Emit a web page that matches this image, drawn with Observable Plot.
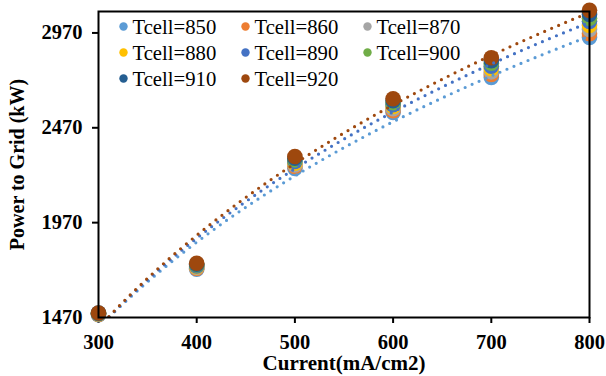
<!DOCTYPE html>
<html>
<head>
<meta charset="utf-8">
<script src="https://cdn.jsdelivr.net/npm/d3@7"></script>
<script src="https://cdn.jsdelivr.net/npm/@observablehq/plot@0.6"></script>
<style>
  html, body { margin: 0; padding: 0; background: #fff; }
</style>
</head>
<body>
<div id="chart"></div>
<script>
// ---- data ----
const currents = [300, 400, 500, 600, 700, 800];          // mA/cm2
const tcells = [850, 860, 870, 880, 890, 900, 910, 920];
const seriesColors = ["#5B9BD5", "#ED7D31", "#A5A5A5", "#FFC000", "#4472C4", "#70AD47", "#255E91", "#9E480E"];
const p850 = [1485, 1724, 2256, 2551, 2735, 2946];
const p860 = [1486, 1729, 2266, 2560, 2751, 2966];
const p870 = [1488, 1733, 2274, 2571, 2765, 2988];
const p880 = [1489, 1738, 2283, 2582, 2781, 3009];
const p890 = [1490, 1742, 2292, 2592, 2795, 3031];
const p900 = [1491, 1747, 2301, 2602, 2810, 3047];
const p910 = [1493, 1751, 2310, 2613, 2824, 3067];
const p920 = [1494, 1756, 2319, 2623, 2839, 3089];
const xTicks = [300, 400, 500, 600, 700, 800];
const yTicks = [1470, 1970, 2470, 2970];
const trendSeries = [850, 890, 920];   // series with a visible logarithmic trendline
const xLabel = "Current(mA/cm2)";
const yLabel = "Power to Grid (kW)";

const powers = [p850, p860, p870, p880, p890, p900, p910, p920];
const rows = [];
tcells.forEach((t, i) => currents.forEach((c, j) => rows.push({current: c, tcell: t, power: powers[i][j]})));

// logarithmic least-squares trendline (as in the spreadsheet)
function logFit(vals) {
  const L = currents.map(Math.log);
  const mL = d3.mean(L), mY = d3.mean(vals);
  const a = d3.sum(L, (l, i) => (l - mL) * (vals[i] - mY)) / d3.sum(L, l => (l - mL) ** 2);
  const b = mY - a * mL;
  return x => a * Math.log(x) + b;
}
const trendMarks = trendSeries.map(t => {
  const i = tcells.indexOf(t);
  const f = logFit(powers[i]);
  const pts = d3.range(300, 800.01, 2).map(x => ({x, y: f(x)}));
  return Plot.line(pts, {x: "x", y: "y", stroke: seriesColors[i], strokeWidth: 3.2,
    strokeDasharray: "0,7.6", strokeLinecap: "round", clip: true});
});

const legendMarks = [];
tcells.forEach((t, i) => {
  const col = i % 3, row = Math.floor(i / 3);
  legendMarks.push(Plot.dot([t], {frameAnchor: "top-left", dx: 25 + col * 122, dy: 15 + row * 26,
    r: 4.2, fill: seriesColors[i]}));
  legendMarks.push(Plot.text([t], {frameAnchor: "top-left", dx: 34 + col * 122, dy: 16 + row * 26,
    text: d => "Tcell=" + d, textAnchor: "start", lineAnchor: "middle", fontSize: 20.7, fill: "#000"}));
});

const chart = Plot.plot({
  width: 606,
  height: 376,
  marginLeft: 98,
  marginRight: 17,
  marginTop: 11,
  marginBottom: 59,
  style: {fontFamily: "'Liberation Serif', 'Times New Roman', serif", background: "#fff", color: "#000"},
  x: {domain: [300, 800]},
  y: {domain: [1470, 3083]},
  color: {type: "ordinal", domain: tcells, range: seriesColors},
  marks: [
    Plot.axisX({ticks: xTicks, tickFormat: d => String(d), tickSize: 6, tickPadding: 11, strokeWidth: 2,
      fontSize: 20.5, fontWeight: "bold", label: null}),
    Plot.axisY({ticks: yTicks, tickFormat: d => String(d), tickSize: 6, tickPadding: 10, strokeWidth: 2,
      fontSize: 20.5, fontWeight: "bold", label: null}),
    Plot.dot(rows, {x: "current", y: "power", fill: "tcell", r: 7.8}),
    ...trendMarks,
    Plot.frame({stroke: "#000", strokeWidth: 2}),
    ...legendMarks,
    Plot.text([yLabel], {frameAnchor: "left", dx: -81, rotate: -90, text: d => d, fontSize: 20,
      fontWeight: "bold", textAnchor: "middle", lineAnchor: "middle", fill: "#000"}),
    Plot.text([xLabel], {frameAnchor: "bottom", dy: 46, text: d => d, fontSize: 21,
      fontWeight: "bold", textAnchor: "middle", lineAnchor: "middle", fill: "#000"})
  ]
});
document.getElementById("chart").appendChild(chart);
</script>
</body>
</html>
